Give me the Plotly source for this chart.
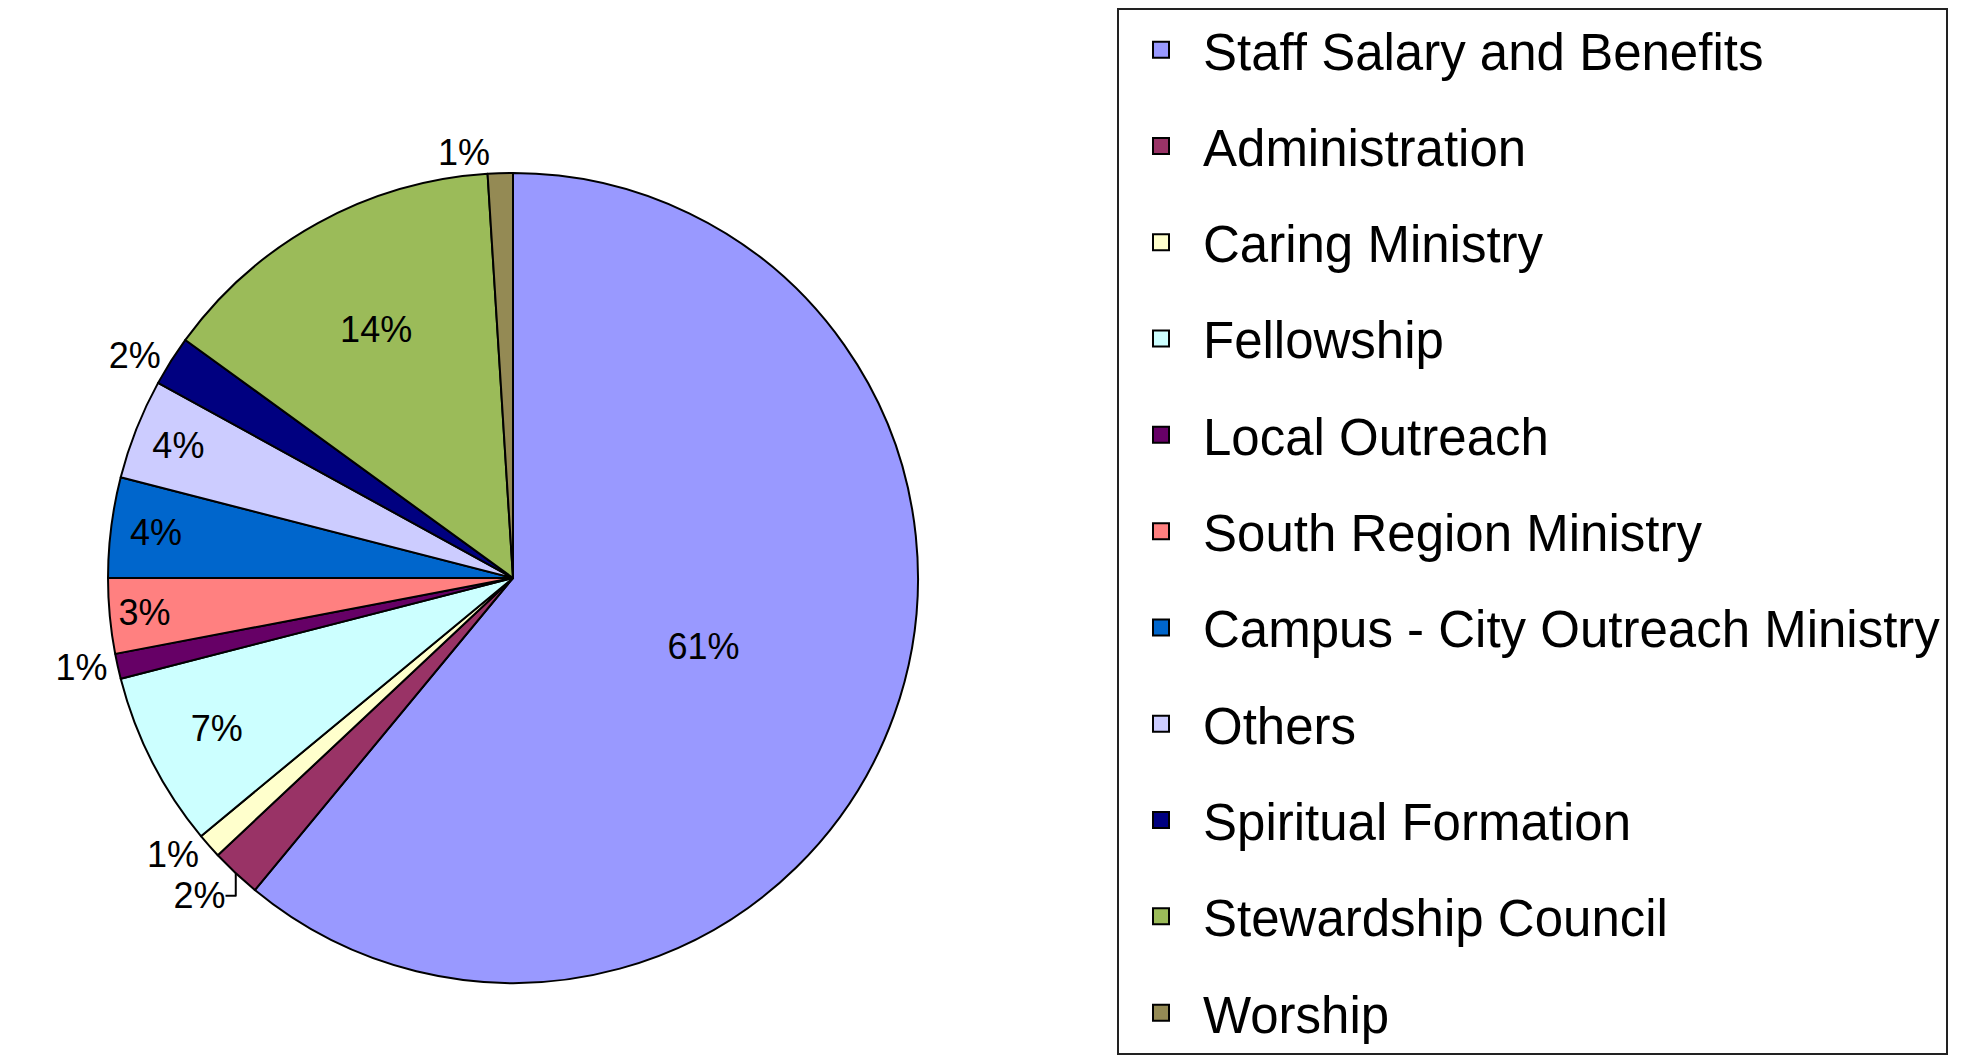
import plotly.graph_objects as go

categories = [
    "Staff Salary and Benefits",
    "Administration",
    "Caring Ministry",
    "Fellowship",
    "Local Outreach",
    "South Region Ministry",
    "Campus - City Outreach Ministry",
    "Others",
    "Spiritual Formation",
    "Stewardship Council",
    "Worship",
]
values = [61, 2, 1, 7, 1, 3, 4, 4, 2, 14, 1]
colors = [
    "#9999FF", "#993366", "#FFFFCC", "#CCFFFF", "#660066", "#FF8080",
    "#0066CC", "#CCCCFF", "#000080", "#9BBB59", "#948A54",
]
text_positions = [
    "inside", "outside", "outside", "inside", "outside", "inside",
    "inside", "inside", "outside", "inside", "outside",
]

FONT = "Liberation Sans, Arial, sans-serif"
W, H = 1978, 1064
cx, cy, r = 505, 570, 405

fig = go.Figure()
fig.add_trace(go.Pie(
    labels=categories,
    values=values,
    sort=False,
    direction="clockwise",
    rotation=0,
    marker=dict(colors=colors, line=dict(color="black", width=2)),
    texttemplate="%{percent:.0%}",
    textposition=text_positions,
    insidetextorientation="horizontal",
    textfont=dict(family=FONT, size=36, color="black"),
    insidetextfont=dict(family=FONT, size=36, color="black"),
    outsidetextfont=dict(family=FONT, size=36, color="black"),
    showlegend=False,
    domain=dict(x=[(cx - r) / W, (cx + r) / W],
                y=[(H - cy - r) / H, (H - cy + r) / H]),
))

for i, (name, col) in enumerate(zip(categories, colors)):
    fig.add_trace(go.Scatter(
        x=[None], y=[None], mode="markers", name=name,
        legendgroup=f"g{i}",
        marker=dict(symbol="square", size=16, color=col,
                    line=dict(color="black", width=2)),
    ))

fig.update_layout(
    width=W, height=H,
    margin=dict(l=0, r=0, t=0, b=0),
    paper_bgcolor="white",
    plot_bgcolor="white",
    xaxis=dict(visible=False),
    yaxis=dict(visible=False),
    font=dict(family=FONT, color="black"),
    legend=dict(
        x=1109 / W, y=1.0, xanchor="left", yanchor="top",
        bordercolor="#222", borderwidth=2, bgcolor="white",
        font=dict(family=FONT, size=51, color="black"),
        tracegroupgap=27,
        itemsizing="trace",
        itemwidth=74,
    ),
)

fig.write_html("out.html")
